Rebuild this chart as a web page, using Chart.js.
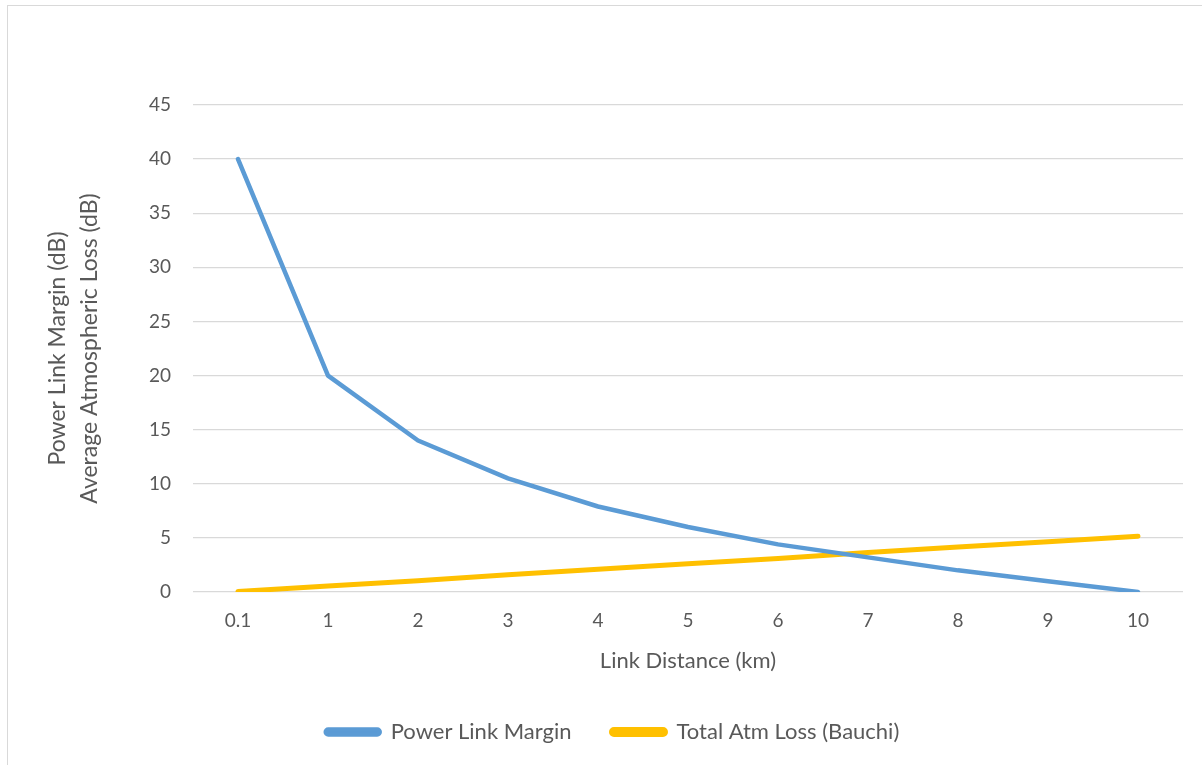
<!DOCTYPE html>
<html>
<head>
<meta charset="utf-8">
<script src="https://cdn.jsdelivr.net/npm/chart.js@4.4.1/dist/chart.umd.min.js"></script>
<style>
  html, body { margin: 0; padding: 0; background: #fff; }
  #wrap { position: relative; width: 1202px; height: 765px; overflow: hidden; }
  #frame { position: absolute; left: 7px; top: 5px; width: 1300px; height: 900px; border: 1px solid #d9d9d9; box-sizing: border-box; }
  #chart { position: absolute; left: 0; top: 0; }
</style>
</head>
<body>
<div id="wrap">
  <div id="frame"></div>
  <canvas id="chart" width="1202" height="765"></canvas>
</div>
<script>
// data
const distances = ['0.1', '1', '2', '3', '4', '5', '6', '7', '8', '9', '10'];
const powerLinkMargin = [40, 20, 14, 10.5, 7.9, 6, 4.4, 3.2, 2, 1, 0];
const totalAtmLoss = [0.05, 0.55, 1.05, 1.6, 2.1, 2.6, 3.1, 3.65, 4.15, 4.65, 5.16];
const yTicks = [0, 5, 10, 15, 20, 25, 30, 35, 40, 45];

const FONT = 'Lato, "Open Sans", sans-serif';
const TXT = '#595959';

const ctx = document.getElementById('chart');
new Chart(ctx, {
  type: 'line',
  data: {
    labels: distances,
    datasets: [
      {
        label: 'Power Link Margin',
        data: powerLinkMargin,
        borderColor: '#5b9bd5',
        backgroundColor: '#5b9bd5',
        borderWidth: 4.5,
        pointRadius: 0,
        tension: 0,
        borderCapStyle: 'round',
        borderJoinStyle: 'round'
      },
      {
        label: 'Total Atm Loss (Bauchi)',
        data: totalAtmLoss,
        borderColor: '#ffc000',
        backgroundColor: '#ffc000',
        borderWidth: 5,
        pointRadius: 0,
        tension: 0,
        borderCapStyle: 'round',
        borderJoinStyle: 'round'
      }
    ]
  },
  options: {
    responsive: false,
    animation: false,
    layout: { padding: { top: 105, right: 19, left: 42, bottom: 12 } },
    plugins: {
      tooltip: { enabled: false },
      legend: {
        position: 'bottom',
        labels: {
          boxWidth: 54,
          boxHeight: 5,
          useBorderRadius: true,
          borderRadius: 2.5,
          padding: 40,
          color: TXT,
          font: { family: FONT, size: 22 }
        }
      }
    },
    scales: {
      x: {
        offset: true,
        grid: { display: false },
        border: { display: false },
        ticks: { color: TXT, font: { family: FONT, size: 19 }, padding: 9, maxRotation: 0 },
        title: { display: true, text: 'Link Distance (km)', color: TXT, font: { family: FONT, size: 22 }, padding: { top: 6, bottom: 7 } },
        afterFit: s => { s.height = 89; }
      },
      y: {
        min: 0,
        max: 45,
        afterBuildTicks: s => { s.ticks = yTicks.map(v => ({ value: v })); },
        grid: { color: '#d9d9d9', lineWidth: 1.3, drawTicks: false },
        border: { display: false },
        ticks: { color: TXT, font: { family: FONT, size: 19 }, padding: 22 },
        title: {
          display: true,
          text: ['Power Link Margin (dB)', 'Average Atmospheric Loss (dB)'],
          color: TXT,
          font: { family: FONT, size: 23, lineHeight: 1.39 },
          padding: 0
        },
        afterFit: s => { s.width = 151; }
      }
    }
  }
});
</script>
</body>
</html>
